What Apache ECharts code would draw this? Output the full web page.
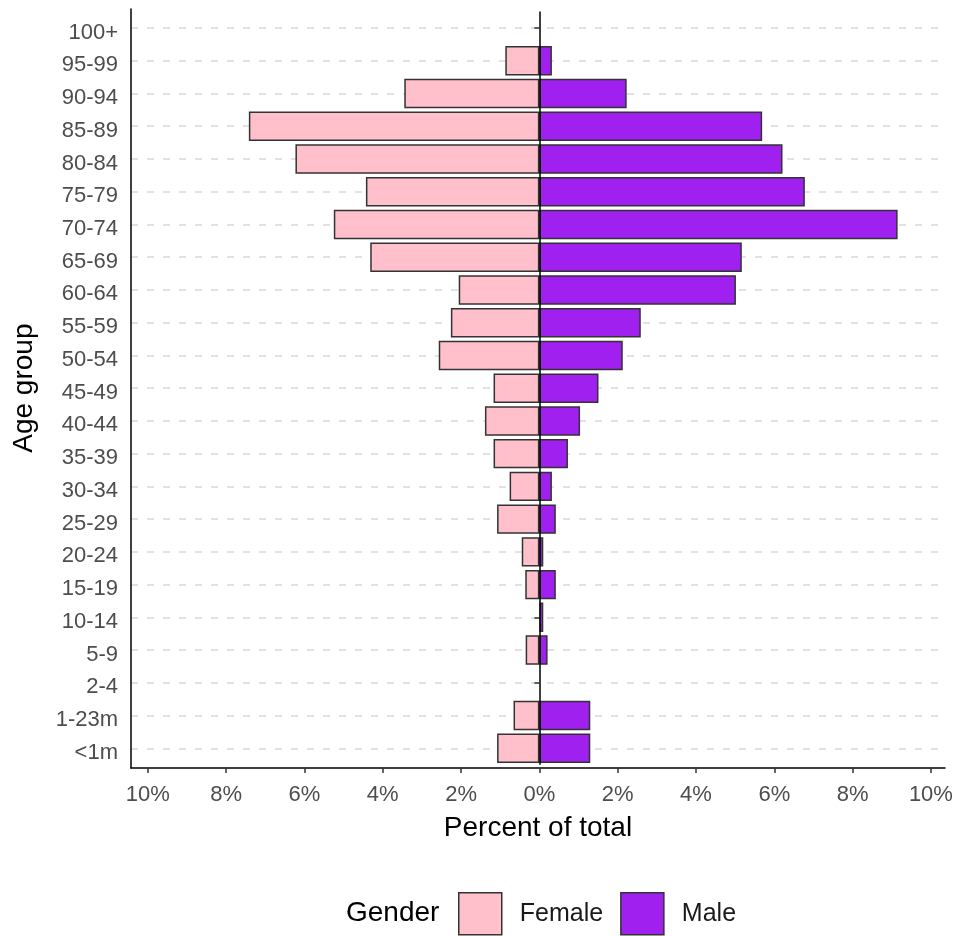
<!DOCTYPE html>
<html>
<head>
<meta charset="utf-8">
<script src="https://cdn.jsdelivr.net/npm/echarts@6/dist/echarts.min.js"></script>
<style>
html,body{margin:0;padding:0;background:#fff;}
#chart{width:953px;height:936px;}
</style>
</head>
<body>
<div id="chart"></div>
<script>
// Age groups, listed top to bottom as in the picture
const categories = ['100+','95-99','90-94','85-89','80-84','75-79','70-74','65-69','60-64','55-59','50-54','45-49','40-44','35-39','30-34','25-29','20-24','15-19','10-14','5-9','2-4','1-23m','<1m'];
// Percent of total (female plotted to the left)
const femalePct = [0,0.87,3.45,7.42,6.23,4.43,5.25,4.32,2.06,2.26,2.57,1.17,1.39,1.17,0.76,1.08,0.45,0.36,0,0.35,0,0.66,1.08];
const malePct   = [0,0.32,2.23,5.69,6.21,6.78,9.15,5.17,5.02,2.59,2.13,1.51,1.04,0.73,0.32,0.42,0.10,0.42,0.10,0.21,0,1.30,1.30];
// x tick values
const xTicks = [-10,-8,-6,-4,-2,0,2,4,6,8,10];

const FONT = '"Liberation Sans", Arial, sans-serif';
const X_MIN = -10.43, X_MAX = 10.36;
const BORDER = '#333333';

// zero-length bars get no outline (nothing is drawn for them in the picture)
const toItems = (arr, sign) => arr.map(v => v === 0
  ? {value: 0, itemStyle: {borderWidth: 0, opacity: 0}}
  : sign * v);

const chart = echarts.init(document.getElementById('chart'), null, {renderer:'canvas'});
chart.setOption({
  animation: false,
  backgroundColor: '#ffffff',
  textStyle: {fontFamily: FONT},
  title: {
    text: 'Gender', left: 346, top: 899, padding: 0,
    textStyle: {fontFamily: FONT, fontSize: 28, fontWeight: 'normal', color: '#000'}
  },
  legend: {
    data: ['Female','Male'],
    left: 458, top: 892, padding: 0,
    itemWidth: 43, itemHeight: 42, itemGap: 17,
    icon: 'rect',
    itemStyle: {borderColor: BORDER, borderWidth: 1.5},
    textStyle: {fontFamily: FONT, fontSize: 25, color: '#1a1a1a', padding: [0,0,0,13]},
    selectedMode: false
  },
  grid: [
    {left: 131, right: 8, top: 11.6, bottom: 171.3, outerBoundsMode: 'none', containLabel: false},
    {left: 131, right: 8, top: 9, bottom: 168, outerBoundsMode: 'none', containLabel: false}
  ],
  xAxis: [
    {gridIndex: 0, type: 'value', min: X_MIN, max: X_MAX, show: false, splitLine: {show: false}},
    {gridIndex: 1, type: 'value', min: X_MIN, max: X_MAX,
     axisLine: {show: true, onZero: false, lineStyle: {color: '#000', width: 1.5}},
     axisTick: {show: true, length: 5, customValues: xTicks, lineStyle: {color: '#333', width: 1.5}},
     axisLabel: {customValues: xTicks, margin: 16, fontSize: 22, color: '#4d4d4d', fontFamily: FONT,
       formatter: v => Math.abs(v) + '%'},
     splitLine: {show: false},
     name: 'Percent of total', nameLocation: 'middle', nameGap: 46,
     nameTextStyle: {fontSize: 28, color: '#000', fontFamily: FONT}
    }
  ],
  yAxis: [
    {gridIndex: 0, type: 'category', data: categories, inverse: true,
     axisLine: {show: false},
     axisTick: {show: true, alignWithLabel: true, length: 5, lineStyle: {color: '#333', width: 1.5}},
     axisLabel: {margin: 13, interval: 0, fontSize: 22, color: '#4d4d4d', fontFamily: FONT,
       formatter: v => '{a|' + v + '}',
       rich: {a: {fontSize: 22, color: '#4d4d4d', fontFamily: FONT, padding: [9,0,0,0]}}},
     splitLine: {show: true, alignWithLabel: true, interval: 0, lineStyle: {color: '#d9d9d9', width: 1.5, type: [7,9]}},
     name: 'Age group', nameLocation: 'middle', nameGap: 93, nameRotate: 90,
     nameTextStyle: {fontSize: 28, color: '#000', fontFamily: FONT}
    },
    {gridIndex: 1, type: 'value', min: 0, max: 1,
     axisLine: {show: true, onZero: false, lineStyle: {color: '#000', width: 1.5}},
     axisTick: {show: false}, axisLabel: {show: false}, splitLine: {show: false}
    }
  ],
  series: [
    {name: 'Female', type: 'bar', xAxisIndex: 0, yAxisIndex: 0,
     data: toItems(femalePct, -1), barWidth: '90%', barGap: '-100%',
     itemStyle: {color: '#FFC0CB', borderColor: BORDER, borderWidth: 1.5}},
    {name: 'Male', type: 'bar', xAxisIndex: 0, yAxisIndex: 0,
     data: toItems(malePct, 1), barWidth: '90%', barGap: '-100%',
     itemStyle: {color: '#A020F0', borderColor: BORDER, borderWidth: 1.5},
     markLine: {silent: true, symbol: ['none','none'], label: {show: false},
       lineStyle: {color: '#000', width: 1.5, type: 'solid'},
       emphasis: {disabled: true},
       data: [{xAxis: 0}]}
    }
  ]
});
</script>
</body>
</html>
